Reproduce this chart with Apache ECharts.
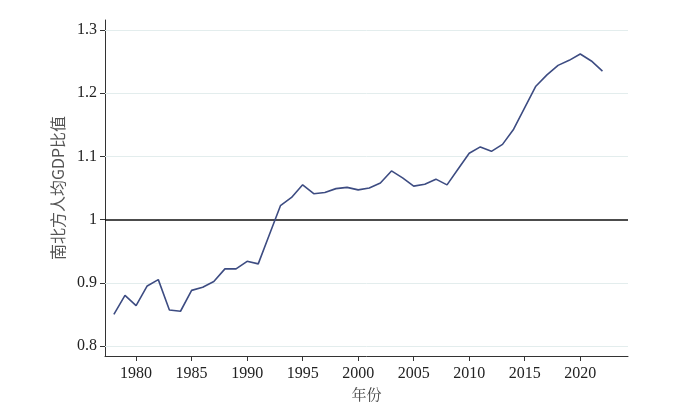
<!DOCTYPE html>
<html><head><meta charset="utf-8">
<script src="https://cdn.jsdelivr.net/npm/echarts@6/dist/echarts.min.js"></script>
<style>html,body{margin:0;padding:0;background:#fff}#c{width:700px;height:412px}</style>
</head><body><div id="c"></div>
<script>
const years = [];
for (let y = 1978; y <= 2022; y++) years.push(y);
const ratio = [0.850,0.880,0.864,0.895,0.905,0.857,0.855,0.888,0.893,0.902,
  0.922,0.922,0.934,0.930,0.976,1.022,1.035,1.055,1.041,1.043,
  1.049,1.051,1.047,1.050,1.058,1.077,1.066,1.053,1.056,1.064,
  1.055,1.080,1.105,1.115,1.108,1.119,1.143,1.177,1.211,1.229,
  1.244,1.252,1.262,1.251,1.235];
const xTicks = [1980,1985,1990,1995,2000,2005,2010,2015,2020];
const yTicks = [0.8,0.9,1.0,1.1,1.2,1.3];
const yLabels = ['0.8','0.9','1','1.1','1.2','1.3'];
const refValue = 1.0;

const chart = echarts.init(document.getElementById('c'));
const gridLines = yTicks.filter(v => v !== refValue).map(v => ({yAxis: v}));
chart.setOption({
  animation: false,
  grid: {left: 105, right: 72, top: 20, bottom: 56},
  xAxis: {
    type: 'value', min: 1977.2, max: 2024.3,
    name: '年份', nameLocation: 'middle', nameGap: 29,
    nameTextStyle: {fontFamily: 'Noto Serif CJK SC, Noto Sans CJK SC', fontSize: 15, color: '#444'},
    axisLine: {lineStyle: {color: '#333', width: 1}},
    axisTick: {show: true, length: 5, customValues: xTicks, lineStyle: {color: '#333'}},
    axisLabel: {customValues: xTicks, fontFamily: 'Liberation Serif', fontSize: 16, color: '#222', margin: 10,
      formatter: v => String(v)},
    splitLine: {show: false}
  },
  yAxis: {
    type: 'value', min: 0.7842, max: 1.3158,
    name: '南北方人均GDP比值', nameLocation: 'middle', nameGap: 34,
    nameTextStyle: {fontFamily: 'Noto Sans CJK SC', fontSize: 16, color: '#555'},
    axisLine: {show: true, lineStyle: {color: '#333', width: 1}},
    axisTick: {show: true, length: 5, customValues: yTicks, lineStyle: {color: '#333'}},
    axisLabel: {customValues: yTicks, fontFamily: 'Liberation Serif', fontSize: 16, color: '#222', margin: 8,
      formatter: v => yLabels[yTicks.findIndex(t => Math.abs(t - v) < 1e-6)] ?? ''},
    splitLine: {show: false}
  },
  series: [{
    type: 'line',
    data: years.map((y, i) => [y, ratio[i]]),
    showSymbol: false,
    lineStyle: {color: '#3d4c82', width: 1.6},
    z: 5,
    markLine: {
      silent: true, symbol: 'none', label: {show: false}, animation: false,
      data: [
        ...gridLines.map(d => Object.assign({}, d, {lineStyle: {color: '#e3eded', width: 1, type: 'solid'}})),
        {yAxis: refValue, lineStyle: {color: '#111', width: 1.5, type: 'solid'}}
      ]
    }
  }]
});
</script></body></html>
